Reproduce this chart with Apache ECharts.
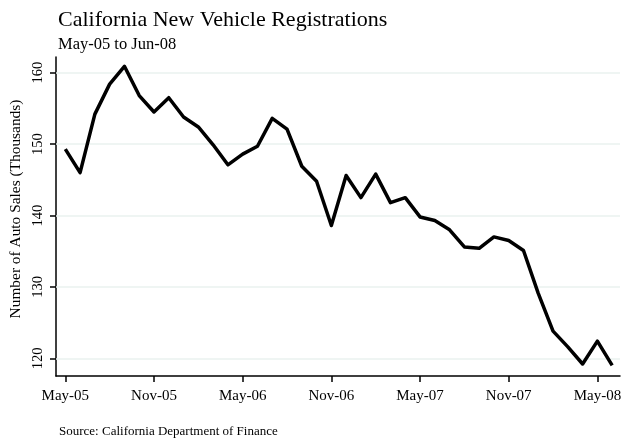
<!DOCTYPE html>
<html>
<head>
<meta charset="utf-8">
<script src="https://cdn.jsdelivr.net/npm/echarts@6/dist/echarts.min.js"></script>
<style>
  html, body { margin: 0; padding: 0; background: #fff; }
  #chart { width: 623px; height: 441px; }
</style>
</head>
<body>
<div id="chart"></div>
<script>
// monthly registrations, May-05 .. Jun-08 (thousands)
var months = ['May-05','Jun-05','Jul-05','Aug-05','Sep-05','Oct-05','Nov-05','Dec-05',
  'Jan-06','Feb-06','Mar-06','Apr-06','May-06','Jun-06','Jul-06','Aug-06','Sep-06','Oct-06',
  'Nov-06','Dec-06','Jan-07','Feb-07','Mar-07','Apr-07','May-07','Jun-07','Jul-07','Aug-07',
  'Sep-07','Oct-07','Nov-07','Dec-07','Jan-08','Feb-08','Mar-08','Apr-08','May-08','Jun-08'];
var sales = [149.3, 146.0, 154.2, 158.4, 160.9, 156.8, 154.5, 156.5,
  153.8, 152.4, 149.9, 147.1, 148.6, 149.7, 153.6, 152.1, 146.9, 144.8,
  138.6, 145.6, 142.5, 145.8, 141.8, 142.5, 139.8, 139.3, 138.0, 135.6,
  135.4, 137.0, 136.5, 135.1, 129.1, 123.8, 121.6, 119.2, 122.4, 119.0];
var xTicks = [0, 6, 12, 18, 24, 30, 36];
var yTicks = [120, 130, 140, 150, 160];

var serif = 'Liberation Serif';
var myChart = echarts.init(document.getElementById('chart'));

var points = [];
sales.forEach(function (v, i) { points.push([i, v]); });

var option = {
  animation: false,
  backgroundColor: '#fff',
  textStyle: { fontFamily: serif, color: '#000' },
  title: [{
    text: 'California New Vehicle Registrations',
    left: 53, top: 4,
    textStyle: { fontFamily: serif, fontSize: 22, fontWeight: 'normal', color: '#000' }
  }, {
    text: 'May-05 to Jun-08',
    left: 53, top: 31,
    textStyle: { fontFamily: serif, fontSize: 16.5, fontWeight: 'normal', color: '#000' }
  }, {
    text: 'Source: California Department of Finance',
    left: 54, top: 420,
    textStyle: { fontFamily: serif, fontSize: 13, fontWeight: 'normal', color: '#000' }
  }],
  grid: { left: 56, top: 57, right: 3, bottom: 65, containLabel: false, outerBoundsMode: 'none' },
  xAxis: {
    type: 'value',
    min: -0.63,
    max: 37.53,
    axisLine: { onZero: false, lineStyle: { color: '#000', width: 1.5 } },
    axisTick: { show: true, customValues: xTicks, length: 6, lineStyle: { color: '#000', width: 1.5 } },
    axisLabel: {
      customValues: xTicks,
      formatter: function (v) { return months[Math.round(v)]; },
      fontFamily: serif, fontSize: 15, color: '#000', margin: 13
    },
    splitLine: { show: false }
  },
  yAxis: {
    type: 'value',
    min: 117.52,
    max: 162.2,
    name: 'Number of Auto Sales (Thousands)',
    nameLocation: 'middle',
    nameGap: 23,
    nameTextStyle: { fontFamily: serif, fontSize: 15.4, color: '#000', padding: [0, 0, 0, 15] },
    axisLine: { show: true, onZero: false, lineStyle: { color: '#000', width: 1.5 } },
    axisTick: { show: true, customValues: yTicks, length: 6, lineStyle: { color: '#000', width: 1.5 } },
    axisLabel: {
      customValues: yTicks,
      rotate: 90,
      fontFamily: serif, fontSize: 14.5, color: '#000', margin: 10
    },
    splitLine: { show: false }
  },
  series: [{
    type: 'line',
    data: points,
    showSymbol: false,
    lineStyle: { color: '#000', width: 3.5, join: 'round' },
    markLine: {
      silent: true,
      symbol: 'none',
      label: { show: false },
      lineStyle: { color: '#eaf2ef', width: 1.5, type: 'solid' },
      z: 1,
      data: yTicks.map(function (t) { return { yAxis: t }; })
    },
    z: 3
  }]
};
myChart.setOption(option);
</script>
</body>
</html>
